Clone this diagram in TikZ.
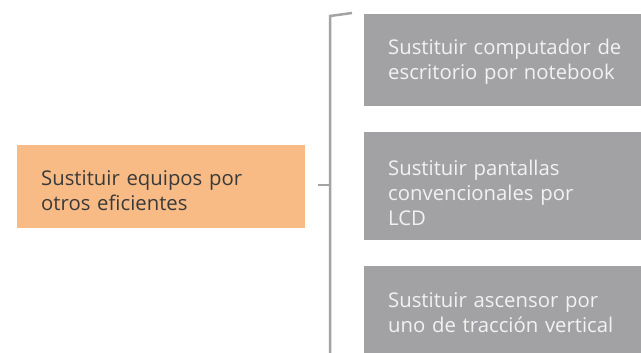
\documentclass[tikz,border=0pt]{standalone}
\usepackage{fontspec}
\setmainfont[Ligatures=NoCommon]{Open Sans}
\definecolor{boxgray}{HTML}{A2A2A5}
\definecolor{linegray}{HTML}{A3A3A6}
\definecolor{orangebox}{HTML}{F8BB85}
\definecolor{darktext}{HTML}{3A3A3A}
\definecolor{lighttext}{HTML}{F2F2F2}
\begin{document}
\begin{tikzpicture}[x=1pt,y=-1pt,
  base/.style={anchor=north west, inner xsep=24pt, inner ysep=0pt, align=left,
    font=\fontsize{20.3}{25}\selectfont},
  graybox/.style={base, fill=boxgray, text=lighttext, text width=250pt},
  orangenode/.style={base, fill=orangebox, text=darktext, text width=240pt},
  bracket/.style={draw=linegray, line width=2.5pt}]
\useasboundingbox (0,0) rectangle (641,353);
\begin{scope}
\clip (0,0) rectangle (641,353);
\node[orangenode, text height=40pt, text depth=43pt] (src) at (17,145) {Sustituir equipos por\\otros eficientes};
\node[graybox, text height=40pt, text depth=52pt] (b1) at (364,14) {Sustituir computador de\\escritorio por notebook};
\node[graybox, text height=43pt, text depth=65pt] (b2) at (364,132) {Sustituir pantallas\\convencionales por\\LCD};
\node[graybox, text height=41pt, text depth=55pt] (b3) at (364,266) {Sustituir ascensor por\\uno de tracción vertical};
\end{scope}
\coordinate (t0) at (352,13);
\coordinate (t1) at (330,16);
\coordinate (t2) at (330,353);
\coordinate (m0) at (318,185);
\coordinate (m1) at (330,185);
\draw[bracket] (t0) -- (t1) -- (t2);
\draw[bracket] (m0) -- (m1);
\end{tikzpicture}
\end{document}
